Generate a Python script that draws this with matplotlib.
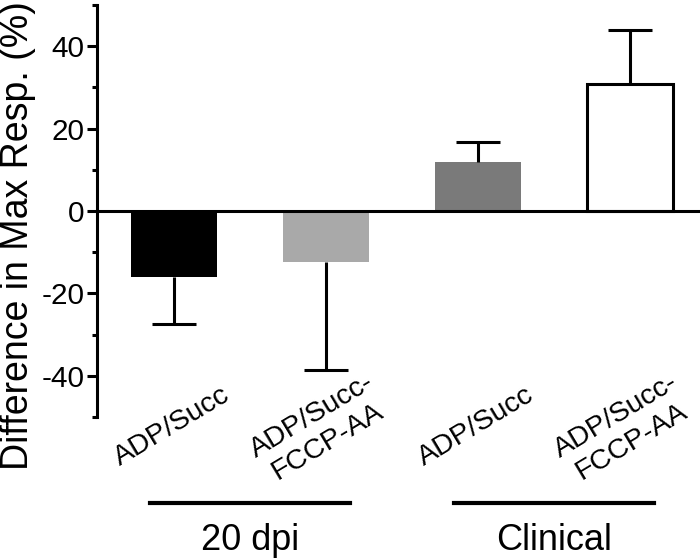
import numpy as np
import matplotlib
matplotlib.use("Agg")
import matplotlib.pyplot as plt
import matplotlib.transforms as mtransforms

plt.rcParams['font.family'] = ['Liberation Sans', 'DejaVu Sans']

# data
labels = ['ADP/Succ', 'ADP/Succ-\nFCCP-AA', 'ADP/Succ', 'ADP/Succ-\nFCCP-AA']
values = [-16.0, -12.4, 11.9, 30.9]
errors = [11.5, 26.2, 4.9, 13.1]
colors = ['black', '#a9a9a9', '#7a7a7a', 'white']
groups = ['20 dpi', 'Clinical']
group_members = [[0, 1], [2, 3]]

fig = plt.figure(figsize=(7, 5.6), dpi=100)
ax = fig.add_axes([0.1386, 0.2554, 0.8614, 0.7357])

x = np.arange(len(values))
vals = np.array(values)
errs = np.array(errors)

# bars
ax.bar(x, vals, width=0.57, color=colors, edgecolor=['none', 'none', 'none', 'black'],
       linewidth=2.2, zorder=2)

# one-sided error bars, away from zero
tips = vals + np.sign(vals) * errs
ax.vlines(x, vals, tips, color='black', linewidth=2.2, zorder=3)
ax.hlines(tips, x - 0.145, x + 0.145, color='black', linewidth=2.2, zorder=3)

# zero line
ax.axhline(0, color='black', linewidth=2.2, zorder=4)

ax.set_xlim(-0.507, 3.46)
ax.set_ylim(-50, 50)
ax.set_yticks([-40, -20, 0, 20, 40])
ax.set_yticks([-50, -30, -10, 10, 30, 50], minor=True)
ax.set_yticklabels(['-40', '-20', '0', '20', '40'])
ax.tick_params(axis='y', which='major', length=7.2, width=2.2, labelsize=21.4, pad=2)
ax.tick_params(axis='y', which='minor', length=3.6, width=2.2)
ax.set_xticks([])

for s in ['top', 'right', 'bottom']:
    ax.spines[s].set_visible(False)
ax.spines['left'].set_linewidth(2.2)

# rotated category labels
for i, lab in enumerate(labels):
    ax.text(i + 0.35, -44.3, lab, rotation=31, rotation_mode='anchor', ha='right',
            va='center', multialignment='center', fontsize=20.5, clip_on=False)

# group lines + group names
trans = mtransforms.blended_transform_factory(ax.transData, fig.transFigure)
for name, members in zip(groups, group_members):
    x0 = x[members[0]] - 0.16
    x1 = x[members[-1]] + 0.16
    ax.plot([x0, x1], [0.1018, 0.1018], color='black', linewidth=3.0,
            transform=trans, clip_on=False)
    ax.text((x0 + x1) / 2, 0.018, name, ha='center', va='baseline', fontsize=26,
            transform=trans)

fig.text(0.026, 0.58, 'Difference in Max Resp. (%)', rotation=90, ha='center',
         va='center', fontsize=27)

fig.savefig('out.png', dpi=100)
